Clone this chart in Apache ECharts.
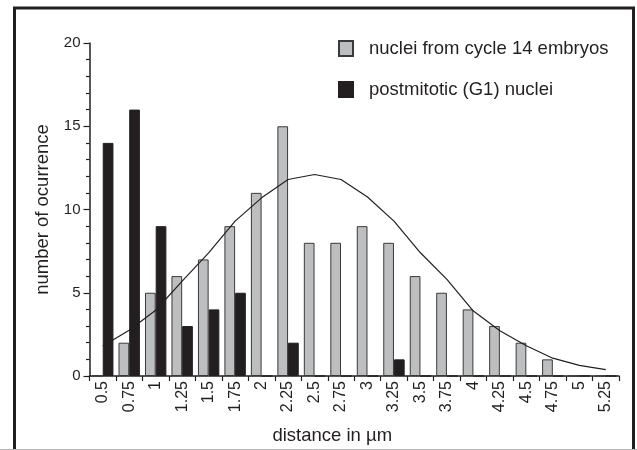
<!DOCTYPE html>
<html>
<head>
<meta charset="utf-8">
<script src="https://cdn.jsdelivr.net/npm/echarts@6/dist/echarts.min.js"></script>
<style>html,body{margin:0;padding:0;background:#fff;}#c{width:637px;height:450px;}</style>
</head>
<body>
<div id="c"></div>
<script>
var categories = ['0.5','0.75','1','1.25','1.5','1.75','2','2.25','2.5','2.75','3','3.25','3.5','3.75','4','4.25','4.5','4.75','5','5.25'];
var cycle14 = [0,2,5,6,7,9,11,15,8,8,9,8,6,5,4,3,2,1,0,0];
var g1 = [14,16,9,3,4,5,0,2,0,0,0,1,0,0,0,0,0,0,0,0];
var fitCurve = [1.8,2.75,3.95,5.7,7.4,9.3,10.7,11.8,12.1,11.8,10.75,9.3,7.4,5.8,3.9,2.72,1.82,1.07,0.64,0.38];
var yTicks = [0,5,10,15,20];
var seriesNames = ['nuclei from cycle 14 embryos','postmitotic (G1) nuclei'];

var ink = '#231f20';
var font = 'Liberation Sans, Arial, Helvetica, sans-serif';
var chart = echarts.init(document.getElementById('c'), null, {renderer:'canvas'});
chart.setOption({
  animation:false,
  backgroundColor:'#fff',
  textStyle:{fontFamily:font,color:ink},
  grid:{left:89.5,right:18,top:43,bottom:70,containLabel:false},
  legend:{
    data:seriesNames,
    orient:'vertical',
    left:338, top:39, padding:0,
    icon:'rect',
    itemWidth:14, itemHeight:15, itemGap:22,
    textStyle:{fontSize:18.5,lineHeight:15,color:ink,fontFamily:font,padding:[0,0,0,11]}
  },
  xAxis:{
    type:'category',
    data:categories,
    boundaryGap:true,
    name:'distance in \u00b5m',
    nameLocation:'middle',
    nameGap:50,
    nameTextStyle:{fontSize:18.5,color:ink,fontFamily:font,padding:[0,44,0,0]},
    axisLine:{show:true,lineStyle:{color:ink,width:1.5}},
    axisTick:{show:true,alignWithLabel:false,length:5,lineStyle:{color:ink,width:1.2}},
    axisLabel:{rotate:90,fontSize:16,color:ink,margin:5,interval:0,fontFamily:font},
    splitLine:{show:false}
  },
  yAxis:{
    type:'value',
    min:yTicks[0], max:yTicks[yTicks.length-1], interval:5,
    name:'number of ocurrence',
    nameLocation:'middle',
    nameGap:37,
    nameRotate:90,
    nameTextStyle:{fontSize:18.5,color:ink,fontFamily:font},
    axisLine:{show:true,lineStyle:{color:ink,width:1.5}},
    axisTick:{show:true,length:6,lineStyle:{color:ink,width:1.2}},
    minorTick:{show:true,splitNumber:5,length:3.5,lineStyle:{color:ink,width:1.2}},
    axisLabel:{fontSize:15,color:ink,margin:9,fontFamily:font},
    splitLine:{show:false}
  },
  series:[
    {name:seriesNames[0],type:'bar',data:cycle14,barWidth:10.7,barGap:'0%',
     itemStyle:{color:'#bcbec0',borderColor:'#3a3a3a',borderWidth:1}},
    {name:seriesNames[1],type:'bar',data:g1,barWidth:10.7,barGap:'0%',
     itemStyle:{color:ink,borderColor:ink,borderWidth:1}},
    {name:'fit',type:'line',data:fitCurve,symbol:'none',smooth:false,z:5,
     lineStyle:{color:ink,width:1.2}}
  ],
  graphic:[
    {type:'rect',shape:{x:14.5,y:8,width:619,height:470},style:{fill:null,stroke:ink,lineWidth:3},silent:true},
    {type:'line',shape:{x1:0,y1:449.5,x2:637,y2:449.5},style:{stroke:'#bbbbbb',lineWidth:1},silent:true}
  ]
});
</script>
</body>
</html>
